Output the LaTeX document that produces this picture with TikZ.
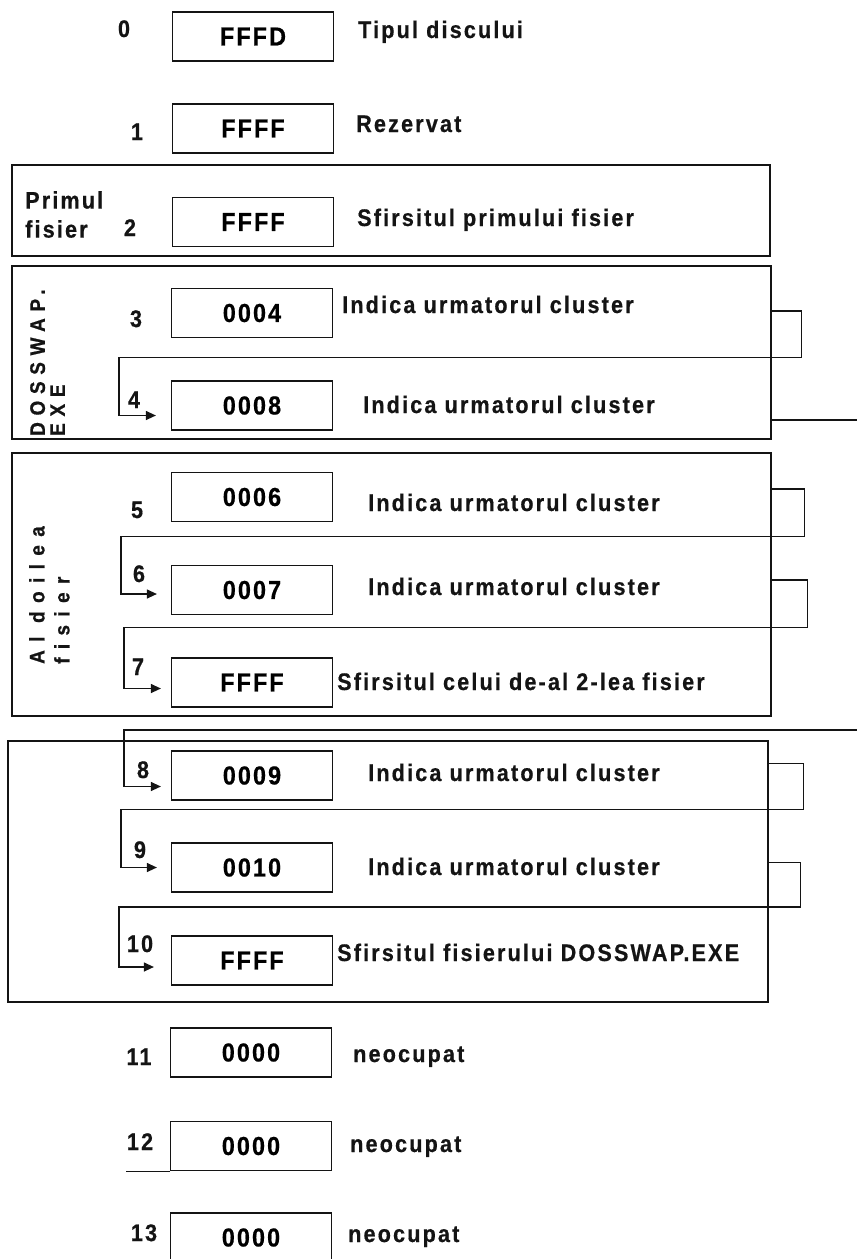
\documentclass[tikz,border=0pt]{standalone}
\usepackage{fontspec}
\usepackage{xcolor}
\usepackage{tikz}
\usetikzlibrary{positioning,arrows.meta,calc}
\newfontfamily\figfamily{Liberation Sans}[LetterSpace=9,FakeStretch=0.9,FakeBold=0.6,Ligatures=CommonOff]
\newfontfamily\figvalfamily{Liberation Sans}[LetterSpace=8,FakeStretch=0.9,FakeBold=0.6,Ligatures=CommonOff]
\newfontfamily\figwidefamily{Liberation Sans}[LetterSpace=32,FakeStretch=0.9,FakeBold=0.8,Ligatures=CommonOff]
\definecolor{cInk}{HTML}{141414}
\newcommand{\figtxt}{\figfamily\bfseries\fontsize{24}{29}\selectfont}
\newcommand{\figval}{\figvalfamily\bfseries\fontsize{26}{28}\selectfont}
\newcommand{\figvert}{\figwidefamily\bfseries\fontsize{21}{20}\selectfont}
\tikzset{
  fig/group/.style={draw=cInk, line width=1.2pt, inner sep=0pt},
  fig/cell/.style ={draw=cInk, line width=1.2pt, minimum width=161pt,
                    minimum height=49pt, inner sep=0pt, font=\figval},
  fig/num/.style  ={font=\figtxt, text=cInk, inner sep=0pt, anchor=base},
  fig/note/.style ={font=\figtxt, text=cInk, inner sep=0pt, anchor=base west},
  fig/side/.style ={font=\figtxt, text=cInk, inner sep=0pt, align=left,
                    anchor=north west},
  fig/vert/.style ={font=\figvert, text=cInk, inner sep=0pt, align=left,
                    anchor=north west, rotate=90},
  fig/line/.style ={line width=1.2pt, cInk},
  fig/arr/.style  ={-{Triangle[length=10pt, width=9pt]}, line width=1.2pt, cInk}
}

\begin{document}
\begin{tikzpicture}[x=1pt, y=-1pt]
    \useasboundingbox (0,0) rectangle (857,1259);

    % --- file frames ---
    \node[fig/group, minimum width=758pt, minimum height=91pt]  (g2) at (391,210.5) {};
    \node[fig/group, minimum width=759pt, minimum height=173pt] (g3) at (391.5,352.5) {};
    \node[fig/group, minimum width=759pt, minimum height=263pt] (g5) at (391.5,584.5) {};
    \node[fig/group, minimum width=760pt, minimum height=261pt] (g8) at (388,871.5) {};

    % --- frame labels ---
    \node[fig/side] (s2) at (25,191) {Primul\\fisier};
    \node[fig/vert] (s3) at (30,436) {DOSSWAP.\\EXE};
    \node[fig/vert, font=\figvert\addfontfeature{LetterSpace=40}] (s5) at (29,664)
         {Al doilea\\[5pt]fisier};

    % --- FAT cells ---
    \node[fig/cell] (c0)  at (253,36.5)  {FFFD};
    \node[fig/cell] (c1)  at (253,128.5) {FFFF};
    \node[fig/cell] (c2)  at (253,222)   {FFFF};
    \node[fig/cell] (c3)  at (252,313)   {0004};
    \node[fig/cell] (c4)  at (252,405.5) {0008};
    \node[fig/cell] (c5)  at (252,497)   {0006};
    \node[fig/cell] (c6)  at (252,590)   {0007};
    \node[fig/cell] (c7)  at (252,682.5) {FFFF};
    \node[fig/cell] (c8)  at (252,775.5) {0009};
    \node[fig/cell] (c9)  at (252,867.5) {0010};
    \node[fig/cell] (c10) at (252,960.5) {FFFF};
    \node[fig/cell] (c11) at (251,1052.5) {0000};
    \node[fig/cell] (c12) at (251,1146)  {0000};
    \node[fig/cell] (c13) at (251,1237.5) {0000};

    % --- cluster numbers ---
    \node[fig/num] (n0)  at (124,37)   {0};
    \node[fig/num] (n1)  at (137,140)  {1};
    \node[fig/num] (n2)  at (130,236)  {2};
    \node[fig/num] (n3)  at (136,327)  {3};
    \node[fig/num] (n4)  at (134,408)  {4};
    \node[fig/num] (n5)  at (137,518)  {5};
    \node[fig/num] (n6)  at (139,582)  {6};
    \node[fig/num] (n7)  at (138,675)  {7};
    \node[fig/num] (n8)  at (143,778)  {8};
    \node[fig/num] (n9)  at (140,858)  {9};
    \node[fig/num] (n10) at (140,952)  {10};
    \node[fig/num] (n11) at (139,1065) {11};
    \node[fig/num] (n12) at (140,1150) {12};
    \node[fig/num] (n13) at (144,1241) {13};

    % --- meaning of each entry ---
    \node[fig/note] (t0)  at (358,38)   {Tipul discului};
    \node[fig/note] (t1)  at (356,132)  {Rezervat};
    \node[fig/note] (t2)  at (357,226)  {Sfirsitul primului fisier};
    \node[fig/note] (t3)  at (342,313)  {Indica urmatorul cluster};
    \node[fig/note] (t4)  at (363,413)  {Indica urmatorul cluster};
    \node[fig/note] (t5)  at (368,511)  {Indica urmatorul cluster};
    \node[fig/note] (t6)  at (368,595)  {Indica urmatorul cluster};
    \node[fig/note] (t7)  at (337,690)  {Sfirsitul celui de-al 2-lea fisier};
    \node[fig/note] (t8)  at (368,781)  {Indica urmatorul cluster};
    \node[fig/note] (t9)  at (368,875)  {Indica urmatorul cluster};
    \node[fig/note] (t10) at (337,961)  {Sfirsitul fisierului DOSSWAP.EXE};
    \node[fig/note] (t11) at (353,1062) {neocupat};
    \node[fig/note] (t12) at (350,1152) {neocupat};
    \node[fig/note] (t13) at (348,1242) {neocupat};

    % --- chain links ---
    \draw[fig/arr] ($(c3 -| g3.east)+(0,-2)$) -- ++(30,0)
        |- ($(c3.south west)!.5!(c4.north west)+(-52,-2)$)
        |- ([xshift=-15pt,yshift=-10pt]c4.west);
    \coordinate (out4) at (857,420);
    \draw[fig/line] ($(c4 -| g3.east)+(0,14.5)$) -- (out4);

    \draw[fig/arr] ($(c5 -| g5.east)+(0,-8)$) -- ++(33,0)
        |- ($(c5.south west)!.5!(c6.north west)+(-50,-7)$)
        |- ([xshift=-14pt,yshift=-4pt]c6.west);
    \draw[fig/arr] ($(c6 -| g5.east)+(0,-10)$) -- ++(36,0)
        |- ($(c6.south west)!.5!(c7.north west)+(-47,-9)$)
        |- ([xshift=-10pt,yshift=-6pt]c7.west);

    \coordinate (in8) at (857,730);
    \draw[fig/arr] (in8) -| ([xshift=-47pt,yshift=-11pt]c8.west)
        -- ([xshift=-10pt,yshift=-11pt]c8.west);

    \draw[fig/arr] ($(c8 -| g8.east)+(0,-12)$) -- ++(35,0)
        |- ($(c8.south west)!.5!(c9.north west)+(-50,-12)$)
        |- ([xshift=-14pt]c9.west);
    \draw[fig/arr] ($(c9 -| g8.east)+(0,-5)$) -- ++(32,0)
        |- ($(c9.south west)!.5!(c10.north west)+(-52,-7)$)
        |- ([xshift=-17pt,yshift=-6.5pt]c10.west);

    % --- stub under cell 12 ---
    \draw[fig/line] (c12.south west) -- ++(-44,0);
\end{tikzpicture}
\end{document}
